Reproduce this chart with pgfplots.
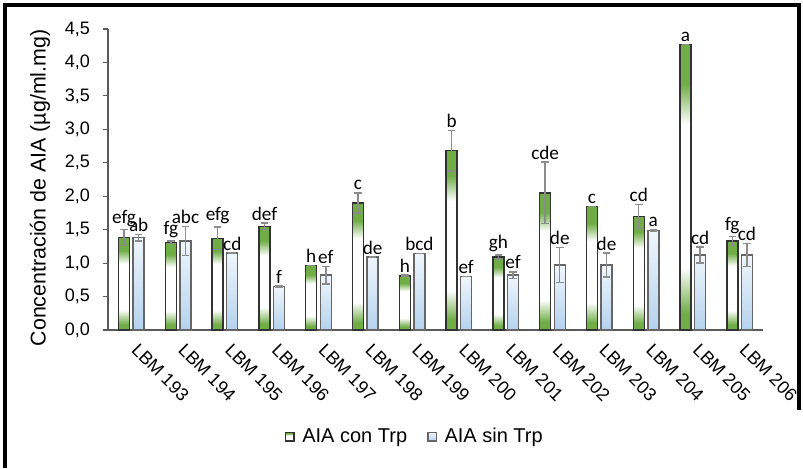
\documentclass[border=0pt]{standalone}
\usepackage{pgfplots}
\pgfplotsset{compat=1.18}
\usepackage{pgfplotstable}
\usepackage{fontspec}
\setmainfont{Liberation Sans}
\newfontfamily\letfont{Carlito}
\definecolor{gbar}{HTML}{70AD47}
\definecolor{bbar}{HTML}{B4D2EE}
\definecolor{btop}{HTML}{F0F6FC}
\definecolor{axgray}{HTML}{595959}
\definecolor{errgray}{HTML}{8C8C8C}
\pgfdeclareverticalshading{greenbar}{100bp}{color(0bp)=(gbar); color(28bp)=(gbar); color(36bp)=(white); color(61bp)=(white); color(68bp)=(gbar); color(100bp)=(gbar)}
\pgfdeclareverticalshading{bluebar}{100bp}{color(0bp)=(bbar); color(25bp)=(bbar); color(75bp)=(btop); color(100bp)=(btop)}
\pgfplotstableread{
x g ge b be lg lb
0 1.38 0.12 1.38 0.05 efg ab
1 1.31 0.02 1.33 0.22 fg abc
2 1.37 0.17 1.15 0.00 efg cd
3 1.55 0.05 0.65 0.01 def f
4 0.96 0.00 0.82 0.13 h ef
5 1.90 0.15 1.09 0.00 c de
6 0.81 0.01 1.14 0.00 h bcd
7 2.68 0.30 0.80 0.00 b ef
8 1.09 0.03 0.82 0.05 gh ef
9 2.05 0.46 0.97 0.26 cde de
10 1.85 0.00 0.97 0.18 c de
11 1.70 0.18 1.49 0.01 cd a
12 4.27 0.00 1.12 0.12 a cd
13 1.33 0.07 1.12 0.17 fg cd
}\datatab
\pgfplotsset{
  gbarstyle/.style={ybar, bar width=0.235, bar shift=-0.156, draw=black!80, line width=0.7pt, shade, shading=greenbar},
  bbarstyle/.style={ybar, bar width=0.235, bar shift=0.156, draw=black!60, line width=0.7pt, shade, shading=bluebar},
  errstyle/.style={draw=none, mark=none, forget plot, error bars/.cd, y dir=both, y explicit, error bar style={draw=errgray, line width=0.7pt}, error mark options={draw=errgray, rotate=90, mark size=1.9pt, line width=0.7pt}},
  letstyle/.style={draw=none, mark=none, forget plot, nodes near coords, point meta=explicit symbolic, nodes near coords style={anchor=south, font=\letfont\fontsize{9.6}{11}\selectfont, inner sep=1.2pt, text=black}},
}
\begin{document}
\begin{tikzpicture}
\useasboundingbox (0,0) rectangle (401.5pt,234pt);
\draw[line width=2pt] (2.35pt,0) -- (2.35pt,231.65pt) -- (399.65pt,231.65pt) -- (399.65pt,29pt);
\begin{axis}[
  at={(54pt,69pt)}, anchor=south west,
  scale only axis, width=327.5pt, height=150.5pt,
  xmin=-0.5, xmax=13.5, ymin=0, ymax=4.5,
  axis x line*=bottom, axis y line*=left,
  axis line style={axgray, line width=0.6pt},
  every tick/.style={axgray, line width=0.6pt},
  tick align=outside, major tick length=2.5pt,
  ytick={0,0.5,1,1.5,2,2.5,3,3.5,4,4.5},
  /pgf/number format/.cd, fixed, fixed zerofill, precision=1, use comma, assume math mode=true,
  /pgfplots/.cd,
  yticklabel style={font=\fontsize{9}{10.8}\selectfont, xshift=-3pt},
  xtick={0,...,13},
  xticklabels={LBM 193,LBM 194,LBM 195,LBM 196,LBM 197,LBM 198,LBM 199,LBM 200,LBM 201,LBM 202,LBM 203,LBM 204,LBM 205,LBM 206},
  major x tick style={draw=none},
  extra x ticks={-0.5,0.5,1.5,2.5,3.5,4.5,5.5,6.5,7.5,8.5,9.5,10.5,11.5,12.5,13.5},
  extra x tick labels={},
  extra x tick style={major x tick style={axgray, line width=0.6pt}},
  xticklabel style={xshift=4pt, yshift=-2pt, rotate=-45, anchor=north west, font=\fontsize{9}{10.8}\selectfont, inner sep=1pt},
  ylabel={Concentración de AIA (µg/ml.mg)},
  every axis y label/.style={at={(axis description cs:-0.104,0.472)}, rotate=90, anchor=center, font=\fontsize{10.7}{12}\selectfont},
  legend style={at={(0.470,-0.355)}, anchor=center, draw=none, legend columns=2, font=\fontsize{10}{12}\selectfont, /tikz/every even column/.append style={column sep=8pt}},
  legend image code/.code={\draw[#1] (0pt,-2.1pt) rectangle (4.2pt,2.1pt); \path (6pt,0pt);},
  clip=false,
]
\addlegendimage{gbarstyle}
\addlegendentry{AIA con Trp}
\addlegendimage{bbarstyle}
\addlegendentry{AIA sin Trp}
\pgfplotsinvokeforeach{0,...,13}{
  \pgfplotstablegetelem{#1}{g}\of\datatab
  \edef\tmpplot{\noexpand\addplot[gbarstyle, forget plot] coordinates {(#1,\pgfplotsretval)};}
  \tmpplot
  \pgfplotstablegetelem{#1}{b}\of\datatab
  \edef\tmpplot{\noexpand\addplot[bbarstyle, forget plot] coordinates {(#1,\pgfplotsretval)};}
  \tmpplot
}
\addplot[errstyle] table[x expr=\thisrow{x}-0.156, y=g, y error=ge]{\datatab};
\addplot[errstyle] table[x expr=\thisrow{x}+0.156, y=b, y error=be]{\datatab};
\addplot[letstyle] table[x expr=\thisrow{x}-0.156, y expr=\thisrow{g}+\thisrow{ge}, meta=lg]{\datatab};
\addplot[letstyle] table[x expr=\thisrow{x}+0.156, y expr=\thisrow{b}+\thisrow{be}, meta=lb]{\datatab};
\end{axis}
\end{tikzpicture}
\end{document}
